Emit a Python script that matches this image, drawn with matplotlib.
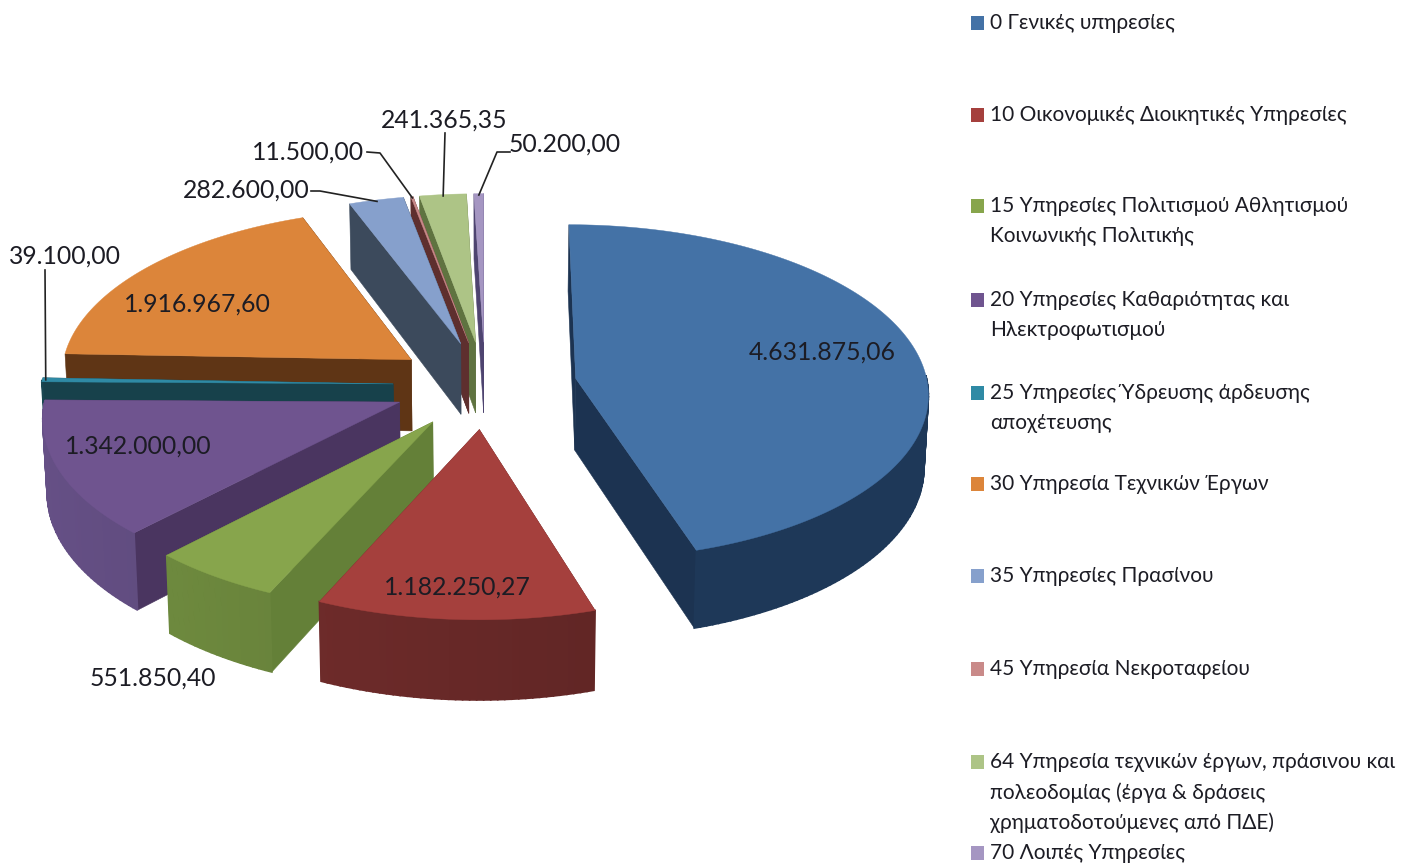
import numpy as np
import matplotlib
matplotlib.use('Agg')
import matplotlib.pyplot as plt
from matplotlib.patches import Polygon, Rectangle

plt.rcParams['font.family'] = ['Lato', 'Noto Sans', 'DejaVu Sans']

# Data
values = [4631875.06, 1182250.27, 551850.40, 1342000.00, 39100.00,
          1916967.60, 282600.00, 11500.00, 241365.35, 50200.00]
value_labels = ['4.631.875,06', '1.182.250,27', '551.850,40', '1.342.000,00', '39.100,00',
                '1.916.967,60', '282.600,00', '11.500,00', '241.365,35', '50.200,00']
legend_labels = ['0 Γενικές υπηρεσίες',
                 '10 Οικονομικές Διοικητικές Υπηρεσίες',
                 '15 Υπηρεσίες Πολιτισμού Αθλητισμού\nΚοινωνικής Πολιτικής',
                 '20 Υπηρεσίες Καθαριότητας και\nΗλεκτροφωτισμού',
                 '25 Υπηρεσίες Ύδρευσης άρδευσης\nαποχέτευσης',
                 '30 Υπηρεσία Τεχνικών Έργων',
                 '35 Υπηρεσίες Πρασίνου',
                 '45 Υπηρεσία Νεκροταφείου',
                 '64 Υπηρεσία τεχνικών έργων, πράσινου και\nπολεοδομίας (έργα & δράσεις\nχρηματοδοτούμενες από ΠΔΕ)',
                 '70 Λοιπές Υπηρεσίες']

# Colours: top face, radial walls, outer rim
top_colors = ['#4472a6', '#a5403d', '#87a54c', '#6f548f', '#2f8aa5',
              '#dc853a', '#86a0cc', '#c98a89', '#adc486', '#a596c2']
wall_colors = ['#1c3351', '#6e2b2a', '#648038', '#4a3560', '#17414b',
               '#5f3515', '#3c4a5c', '#5e2f2e', '#5f7340', '#4e4470']
rim_colors = ['#1e3858', '#6e2b2a', '#6a853c', '#5e4a7c', '#17414b',
              '#5f3515', '#3c4a5c', '#5e2f2e', '#5f7340', '#4e4470']

# Pie geometry in pixels
cx, cy = 485, 385
R = 352
explode = 92
squash = 0.475
persp = 0.00023
depth = 72
start_angle = 0.0

# Positions of the legend rows and the value labels
legend_y = [23, 115, 206, 300, 393, 484, 576, 669, 762, 853]
label_pos = [(822, 352), (457, 587), (153, 678), (138, 446), (65, 256),
             (197, 304), (246, 190), (308, 152), (444, 120), (565, 144)]
leader_start = {4: [(45, 270)], 6: [(311, 191), (320, 191)], 7: [(367, 152), (380, 153)],
                8: [(445, 133)], 9: [(510, 152), (497, 152)]}
FS_LABEL = 17.8
FS_LEGEND = 15


def project(t, r, t_mid, z=0.0):
    # t clockwise from 12 o'clock, r radius, slice moved out along t_mid
    x = r * np.sin(t) + explode * np.sin(t_mid)
    u = -r * np.cos(t) - explode * np.cos(t_mid)
    f = 1 / (1 - persp * u)
    sx = cx + x * f
    sy = cy + u * squash * f
    if z:
        sx = cx + (sx - cx) * 0.99
        sy = sy + z * f
    return np.column_stack([sx, sy])


def shade(color, k):
    rgb = np.array(matplotlib.colors.to_rgb(color)) * k
    return tuple(np.clip(rgb, 0, 1))


fig = plt.figure(figsize=(14.11, 8.63), dpi=100)
ax = fig.add_axes([0, 0, 1, 1])
ax.set_xlim(0, 1411)
ax.set_ylim(863, 0)
ax.axis('off')

fractions = np.array(values) / sum(values)
edges = np.radians(start_angle + 360 * np.concatenate([[0], np.cumsum(fractions)]))
mids = (edges[:-1] + edges[1:]) / 2

# paint from the back of the pie to the front
order = np.argsort(np.cos(mids))[::-1]
zo = 1
for i in order:
    t0, t1, tm = edges[i], edges[i + 1], mids[i]
    arc = np.linspace(t0, t1, max(3, int(np.degrees(t1 - t0))))
    apex_top = project(np.array([0.0]), 0, tm)[0]
    apex_bot = project(np.array([0.0]), 0, tm, depth)[0]

    # radial walls, the one further back first
    walls = sorted([t0, t1], key=lambda a: np.cos(a), reverse=True)
    for a in walls:
        p_top = project(np.array([a]), R, tm)[0]
        p_bot = project(np.array([a]), R, tm, depth)[0]
        ax.add_patch(Polygon([apex_top, p_top, p_bot, apex_bot], closed=True,
                             facecolor=wall_colors[i], edgecolor=wall_colors[i], lw=0.4, zorder=zo))
        zo += 1

    # outer rim, only the part turned to the viewer, darker to the right
    top = project(arc, R, tm)
    bot = project(arc, R, tm, depth)
    for j in range(len(arc) - 1):
        a = (arc[j] + arc[j + 1]) / 2
        if np.cos(a) > 0.02:
            continue
        k = 1.08 - 0.3 * (np.sin(a) + 1) / 2 if i != 0 else 1.0
        c = shade(rim_colors[i], k)
        ax.add_patch(Polygon([top[j], top[j + 1], bot[j + 1], bot[j]], closed=True,
                             facecolor=c, edgecolor=c, lw=1.2, zorder=zo))
    zo += 1

    # top face
    ax.add_patch(Polygon(np.vstack([apex_top, top]), closed=True,
                         facecolor=top_colors[i], edgecolor=top_colors[i], lw=0.3, zorder=zo))
    zo += 1

# value labels and leader lines
ink = '#1c1c24'
for i, txt in enumerate(value_labels):
    ax.text(label_pos[i][0], label_pos[i][1], txt, fontsize=FS_LABEL, color=ink,
            ha='center', va='center', zorder=500)
    if i in leader_start:
        end = project(np.array([mids[i]]), R * 0.99, mids[i])[0]
        pts = np.array(leader_start[i] + [tuple(end)])
        ax.plot(pts[:, 0], pts[:, 1], color='#222222', lw=1.2, zorder=499)

# legend
for i, txt in enumerate(legend_labels):
    ax.add_patch(Rectangle((971, legend_y[i] - 7), 13, 14, facecolor=top_colors[i], edgecolor='none'))
    ax.text(990, legend_y[i] - 10, txt, fontsize=FS_LEGEND, color=ink, ha='left', va='top',
            linespacing=1.6)

fig.savefig('out.png', dpi=100)
